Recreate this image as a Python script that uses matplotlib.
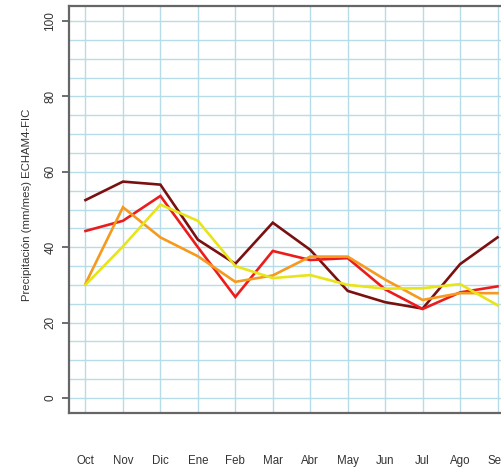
import matplotlib
matplotlib.use("Agg")
import matplotlib.pyplot as plt

months = ["Oct", "Nov", "Dic", "Ene", "Feb", "Mar", "Abr", "May", "Jun", "Jul", "Ago", "Sep"]

serie_granate = [52.5, 57.4, 56.6, 42.0, 35.6, 46.5, 39.3, 28.4, 25.4, 23.7, 35.5, 42.6]
serie_roja = [44.3, 47.0, 53.6, 40.0, 26.8, 39.0, 36.6, 37.1, 28.8, 23.6, 28.0, 29.6]
serie_naranja = [30.3, 50.6, 42.6, 37.6, 30.8, 32.5, 37.5, 37.5, 31.4, 26.0, 27.8, 27.8]
serie_amarilla = [30.0, 40.2, 51.3, 47.0, 35.0, 31.8, 32.6, 30.0, 29.0, 29.1, 30.2, 24.6]

series = [
    (serie_granate, "#7a1010"),
    (serie_roja, "#ec1c1c"),
    (serie_naranja, "#f59a1e"),
    (serie_amarilla, "#e8e41a"),
]

yticks = [0, 20, 40, 60, 80, 100]

plt.rcParams["font.family"] = ["Liberation Sans", "DejaVu Sans"]

fig = plt.figure(figsize=(5.01, 4.67), dpi=100)
ax = fig.add_axes([69 / 501, 54 / 467, 445 / 501, 407 / 467])

x = list(range(1, len(months) + 1))

# light-blue reference grid: one vertical line per month, horizontals every 5 units
for xi in x:
    ax.axvline(xi, color="#b6dce9", lw=1.0, zorder=0)
for yv in range(0, 101, 5):
    ax.axhline(yv, color="#b6dce9", lw=1.0, zorder=0)

for values, color in series:
    ax.plot(x, values, color=color, lw=1.9, solid_joinstyle="miter", zorder=3)

ax.set_xlim(0.56, 12.44)
ax.set_ylim(-4, 104)

ax.set_xticks(x)
ax.set_xticklabels(months)
ax.set_yticks(yticks)
ax.set_yticklabels([str(v) for v in yticks], rotation=90, va="center")

ax.tick_params(axis="x", length=0, pad=30, labelsize=8.3, colors="#333333")
ax.tick_params(axis="y", length=5, width=1.2, pad=4, labelsize=8.5,
               colors="#555555", labelcolor="#333333")

for side in ["left", "bottom", "top", "right"]:
    ax.spines[side].set_color("#666666")
    ax.spines[side].set_linewidth(1.6)

fig.text(27 / 501, 1 - 205 / 467, "Precipitación (mm/mes) ECHAM4-FIC",
         rotation=90, ha="center", va="center", fontsize=8.2, color="#333333")

fig.savefig("out.png", dpi=100)
